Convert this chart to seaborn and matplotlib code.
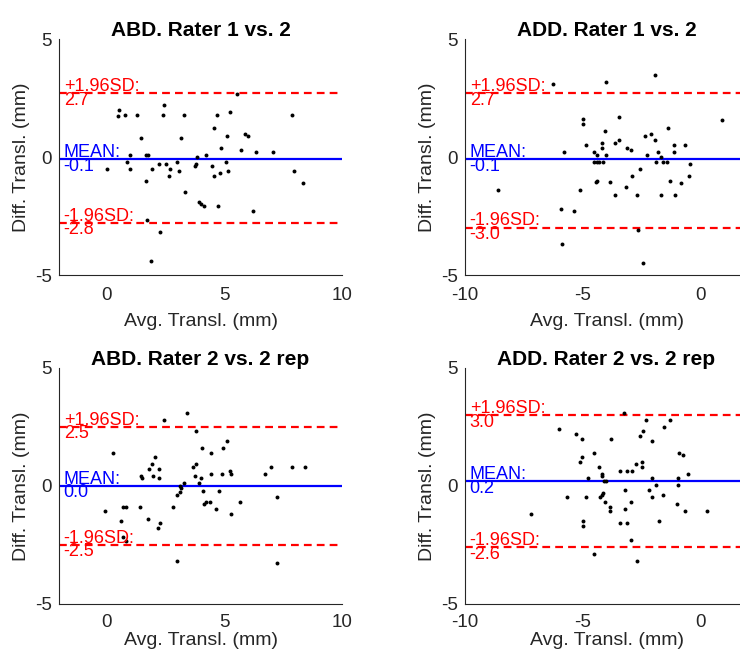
import matplotlib
matplotlib.use("Agg")
import matplotlib.pyplot as plt
import seaborn as sns
import pandas as pd

# ---------------- data ----------------
titles = ["ABD. Rater 1 vs. 2", "ADD. Rater 1 vs. 2",
          "ABD. Rater 2 vs. 2 rep", "ADD. Rater 2 vs. 2 rep"]

abd12_avg = [5.54, 2.47, 0.55, 0.49, 0.78, 1.30, 2.39, 3.29, 4.69, 5.23, 7.88, 4.58, 1.48, 3.18,
             5.13, 5.89, 6.00, 4.87, 5.72, 6.36, 7.06, 1.02, 1.68, 1.77, 3.87, 4.24, 0.03, 0.88,
             1.02, 1.94, 2.25, 2.53, 2.71, 2.67, 2.99, 3.09, 3.77, 3.81, 4.48, 4.59, 4.83, 5.08,
             5.18, 7.97, 8.33, 1.68, 3.35, 3.95, 4.04, 4.15, 4.73, 6.21, 1.72, 2.29, 1.89]
abd12_diff = [2.68, 2.19, 2.00, 1.72, 1.79, 1.79, 1.79, 1.79, 1.79, 1.89, 1.79, 1.21, 0.81, 0.81,
              0.90, 0.99, 0.90, 0.40, 0.30, 0.20, 0.20, 0.10, 0.07, 0.10, 0.00, 0.10, -0.49, -0.21,
              -0.49, -0.49, -0.30, -0.30, -0.49, -0.79, -0.21, -0.59, -0.38, -0.31, -0.40, -0.79, -0.69, -0.21,
              -0.59, -0.59, -1.09, -1.00, -1.50, -1.89, -2.00, -2.09, -2.09, -2.29, -2.68, -3.19, -4.42]

add12_avg = [-6.27, -4.01, -1.96, 0.89, -5.00, -5.00, -3.48, -4.07, -1.40, -4.85, -5.82, -4.21, -4.21,
             -3.62, -3.46, -3.12, -2.95, -2.37, -2.13, -1.96, -2.27, -1.82, -1.15, -0.67, -1.12, -4.54,
             -4.40, -4.04, -4.51, -4.40, -4.30, -4.14, -1.91, -1.67, -1.60, -1.42, -0.45, -2.58, -0.50,
             -2.91, -4.40, -4.44, -3.87, -1.30, -0.85, -8.62, -5.11, -3.16, -3.62, -2.70, -1.70, -1.11,
             -5.93, -5.36, -2.67, -5.87, -2.45]
add12_diff = [3.08, 3.19, 3.49, 1.58, 1.62, 1.40, 1.69, 1.10, 1.21, 0.49, 0.21, 0.59, 0.38,
              0.59, 0.71, 0.38, 0.30, 0.90, 0.99, 0.71, 0.10, 0.21, 0.49, 0.49, 0.21, 0.21,
              0.10, 0.10, -0.21, -0.21, -0.21, -0.21, -0.21, 0.00, -0.21, -0.21, -0.30, -0.49, -0.79,
              -0.79, -1.03, -1.07, -1.07, -1.00, -1.09, -1.40, -1.40, -1.29, -1.60, -1.60, -1.60, -1.60,
              -2.19, -2.29, -3.08, -3.70, -4.49]

abd22_avg = [3.42, 2.47, 3.81, 5.11, 0.28, 4.07, 4.94, 4.45, 2.08, 1.94, 1.82, 2.25, 3.70, 3.81,
             6.98, 7.88, 8.45, 6.74, 5.25, 5.30, 1.47, 1.54, 1.98, 2.25, 3.77, 4.04, 4.44, 4.92,
             3.32, 3.94, 3.11, 3.18, 3.14, 3.00, 4.10, 4.79, 4.16, 4.24, 4.41, 5.68, 7.23, -0.07,
             0.71, 0.83, 1.44, 2.82, 4.66, 5.28, 0.62, 1.79, 2.29, 2.19, 0.73, 0.85, 3.00, 7.23]
abd22_diff = [3.10, 2.80, 2.31, 1.92, 1.41, 1.62, 1.62, 1.41, 1.21, 0.92, 0.72, 0.72, 0.82, 0.92,
              0.82, 0.82, 0.82, 0.52, 0.62, 0.52, 0.42, 0.32, 0.42, 0.32, 0.42, 0.32, 0.52, 0.52,
              0.13, 0.13, 0.00, -0.10, -0.27, -0.38, -0.20, -0.20, -0.77, -0.68, -0.68, -0.68, -0.48, -1.08,
              -0.89, -0.89, -0.89, -0.89, -0.99, -1.18, -1.48, -1.38, -1.58, -1.77, -2.17, -2.35, -3.17, -3.27]

add22_avg = [-3.26, -2.33, -1.30, -1.56, -6.01, -5.30, -5.02, -3.80, -2.45, -2.58, -2.06, -4.52, -0.91,
             -0.74, -5.02, -5.12, -4.31, -2.50, -2.50, -2.77, -3.42, -3.12, -2.91, -4.17, -4.17, -4.77,
             -4.11, -4.01, -2.06, -0.95, -0.54, -1.91, -0.95, -5.67, -4.85, -4.27, -4.20, -4.16, -3.21,
             -2.19, -2.06, -1.60, -4.06, -3.87, -3.87, -2.95, -3.21, -1.01, -0.67, 0.26, -7.22, -1.77,
             -4.99, -4.99, -3.42, -3.12, -2.95, -4.55, -2.71]
add22_diff = [3.11, 2.80, 2.80, 2.51, 2.41, 2.21, 2.01, 2.01, 2.31, 2.11, 1.92, 1.41, 1.41,
              1.31, 1.21, 1.01, 0.82, 1.01, 0.82, 0.92, 0.62, 0.62, 0.62, 0.52, 0.42, 0.32,
              0.23, 0.23, 0.32, 0.32, 0.52, 0.03, 0.03, -0.48, -0.48, -0.48, -0.38, -0.30, -0.18,
              -0.18, -0.48, -0.38, -0.68, -0.89, -1.08, -0.68, -0.99, -0.77, -1.08, -1.08, -1.18, -1.48,
              -1.48, -1.68, -1.58, -1.58, -2.28, -2.89, -3.17]

means = [-0.1, -0.1, 0.0, 0.2]
upper = [2.7, 2.7, 2.5, 3.0]
lower = [-2.8, -3.0, -2.5, -2.6]
mean_labels = ["-0.1", "-0.1", "0.0", "0.2"]
upper_labels = ["2.7", "2.7", "2.5", "3.0"]
lower_labels = ["-2.8", "-3.0", "-2.5", "-2.6"]

xlims = [(-2, 10), (-10, 2), (-2, 10), (-10, 2)]
xticks = [[0, 5, 10], [-10, -5, 0], [0, 5, 10], [-10, -5, 0]]
yticks = [-5, 0, 5]

avgs = [abd12_avg, add12_avg, abd22_avg, add22_avg]
diffs = [abd12_diff, add12_diff, abd22_diff, add22_diff]

# ---------------- plot ----------------
sns.set_theme(style="white")
plt.rcParams['font.family'] = ['Liberation Sans', 'DejaVu Sans']
plt.rcParams['axes.unicode_minus'] = False

fig = plt.figure(figsize=(7.4, 6.57), dpi=100)
W, H = 740, 657
boxes = [(59, 39), (465, 39), (59, 368), (465, 368)]
aw, ah = 283, 236

axis_col = "#262626"
dash = (0, (3.5, 2.3))
for i in range(4):
    lx, ty = boxes[i]
    ax = fig.add_axes([lx / W, (H - ty - ah) / H, aw / W, ah / H])
    df = pd.DataFrame({"avg": avgs[i], "diff": diffs[i]})
    sns.scatterplot(data=df, x="avg", y="diff", ax=ax, color="black", s=8,
                    linewidth=0, zorder=3)
    x0, x1 = xlims[i]
    ax.axhline(means[i], color="#0000ff", lw=1.6, zorder=2)
    ax.axhline(upper[i], color="#ff0000", lw=1.6, ls=dash, zorder=2)
    ax.axhline(lower[i], color="#ff0000", lw=1.6, ls=dash, zorder=2)
    tx = x0 + 0.2
    kw = dict(fontsize=13, va="center", ha="left", linespacing=0.75, zorder=4)
    ax.text(tx, means[i], "MEAN:\n" + mean_labels[i], color="#0000ff", **kw)
    ax.text(tx, upper[i], "+1.96SD:\n" + upper_labels[i], color="#ff0000", **kw)
    ax.text(tx, lower[i], "-1.96SD:\n" + lower_labels[i], color="#ff0000", **kw)
    ax.set_xlim(x0, x1)
    ax.set_ylim(-5, 5)
    ax.set_xticks(xticks[i])
    ax.set_yticks(yticks)
    ax.tick_params(direction="in", length=2.5, width=0.8, colors=axis_col,
                   labelsize=13.5, labelcolor=axis_col)
    ax.tick_params(axis="x", pad=9 if i < 2 else 7)
    ax.tick_params(axis="y", pad=5)
    for s in ["top", "right"]:
        ax.spines[s].set_visible(False)
    for s in ["left", "bottom"]:
        ax.spines[s].set_color(axis_col)
        ax.spines[s].set_linewidth(0.8)
    ax.set_xlabel("Avg. Transl. (mm)", fontsize=14, color=axis_col,
                  labelpad=6 if i < 2 else 1)
    ax.set_ylabel("Diff. Transl. (mm)", fontsize=14, color=axis_col, labelpad=4)
    ax.set_title(titles[i], fontsize=15, fontweight="bold", color="black", pad=2)

fig.savefig("out.png", dpi=100)
